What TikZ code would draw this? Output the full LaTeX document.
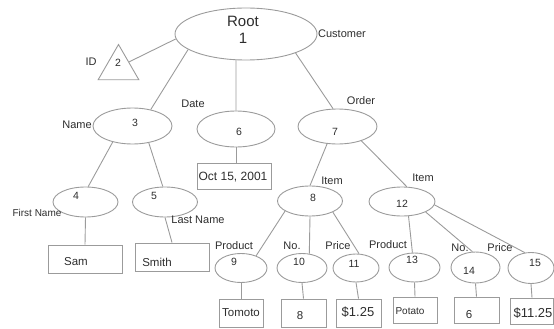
\documentclass[tikz,border=0pt]{standalone}
\usepackage{fontspec}
\setmainfont{Liberation Sans}
\usepackage{tikz}
\usetikzlibrary{shapes.geometric}
\usepackage{xcolor}
\definecolor{treegray}{RGB}{155,155,155}
\definecolor{treetext}{RGB}{45,45,45}
\tikzstyle{oval} = [draw=treegray, line width=0.9pt, ellipse, inner sep=0pt]
\tikzstyle{leaf} = [draw=treegray, line width=0.9pt, rectangle, inner sep=0pt]
\tikzstyle{tri} = [draw=treegray, line width=0.9pt, regular polygon, regular polygon sides=3, minimum size=47pt, inner sep=0pt]
\tikzstyle{edge} = [treegray, line width=0.9pt]
\tikzstyle{num} = [text=treetext, font=\fontsize{10.5}{12}\selectfont, inner sep=0pt]
\tikzstyle{tag} = [text=treetext, font=\fontsize{11}{13}\selectfont, inner sep=0pt]
\tikzstyle{val} = [text=treetext, font=\fontsize{11.5}{13}\selectfont, inner sep=0pt]

\begin{document}
\begin{tikzpicture}[x=1pt, y=-1pt]
\useasboundingbox (0,0) rectangle (554,329);

% Root and the ID triangle
\node[oval, minimum width=142pt, minimum height=52pt] (root) at (246,34) {};
\node[text=treetext, font=\fontsize{15}{17}\selectfont, align=center, inner sep=0pt] (troot) at (243,30) {Root\\1};
\node[tri] (n2) at (118.5,68) {};
\node[num] (t2) at (118,63) {2};

% Inner nodes with their numbers
\foreach \n/\x/\y/\w/\h/\tx/\ty in {3/132.5/126/79/36/135/123, 6/236/129/78/36/239/132, 7/337.5/126.5/79/35/335/132,
    4/85.5/202/65/30/76/196, 5/165/202/65/30/154/196, 8/310/201/65/30/313/198, 12/402/201.5/66/29/402/204,
    9/241/268/52/29/234/262, 10/302/268/50/29/299/262, 11/356/268/46/28/354/264,
    13/414.5/267.5/51/29/412/260, 14/475.5/267.5/49/31/469/271, 15/531/268/46/31/535/263} {
    \node[oval, minimum width=\w pt, minimum height=\h pt] (n\n) at (\x,\y) {};
    \node[num] (t\n) at (\tx,\ty) {\n};
}

% Leaf boxes with values
\foreach \b/\x/\y/\w/\h/\tx/\ty/\txt in {oct/234/176/74/26/233/177/{\fontsize{12}{14}\selectfont Oct 15, 2001},
    sam/85/259/74/28/76/262/Sam, smith/172/257/74/28/157/262/Smith, tomoto/241/313/44/28/241/313/Tomoto,
    b10/303.5/313/45/28/300/316/8, b11/358.5/313/45/28/358/312/{\fontsize{13}{15}\selectfont\$1.25},
    potato/415/310/44/26/410/311/{\fontsize{10}{12}\selectfont Potato}, b14/476.5/310/45/26/469/315/6,
    b15/532/311/43/26/533/313/{\fontsize{13}{15}\selectfont\$11.25}} {
    \node[leaf, minimum width=\w pt, minimum height=\h pt] (\b) at (\x,\y) {};
    \node[val] (v\b) at (\tx,\ty) {\txt};
}

% Edge labels
\foreach \l/\x/\y/\txt in {lid/91/62/ID, lcust/342/34/Customer, lname/77/125/Name, ldate/193/104/Date,
    lorder/361/101/Order, lfirst/37/213/{\fontsize{10}{12}\selectfont First Name}, llast/198/220/Last Name,
    litem/332/181/Item, litemb/423/178/Item, lprod/234/246/Product, lno/292/246/No., lprice/338/246/Price,
    lprodb/388/245/Product, lnob/460/248/No., lpriceb/500/248/Price}
    \node[tag] (\l) at (\x,\y) {\txt};

% Connectors
\foreach \a/\b in {root.184/n2.30, root.195/n3.42, root.249/n6.north, root.339/n7.104,
    n3.219/n4.80, n3.314/n5.98, n4.south/sam.north, n5.south/smith.north,
    n7.239/n8.north, n7.329/n12.72, n8.202/n9.39, n8.south/n10.63, n8.334/n11.78,
    n12.294/n13.98, n12.336/n14.101, n12.354/n15.112,
    n9.south/tomoto.north, n10.south/b10.north, n11.south/b11.north,
    n13.south/potato.north, n14.south/b14.north, n15.south/b15.north}
    \draw[edge] (\a) -- (\b);
\draw[edge] (n6.south) -- (n6.south |- oct.north);
\end{tikzpicture}
\end{document}
